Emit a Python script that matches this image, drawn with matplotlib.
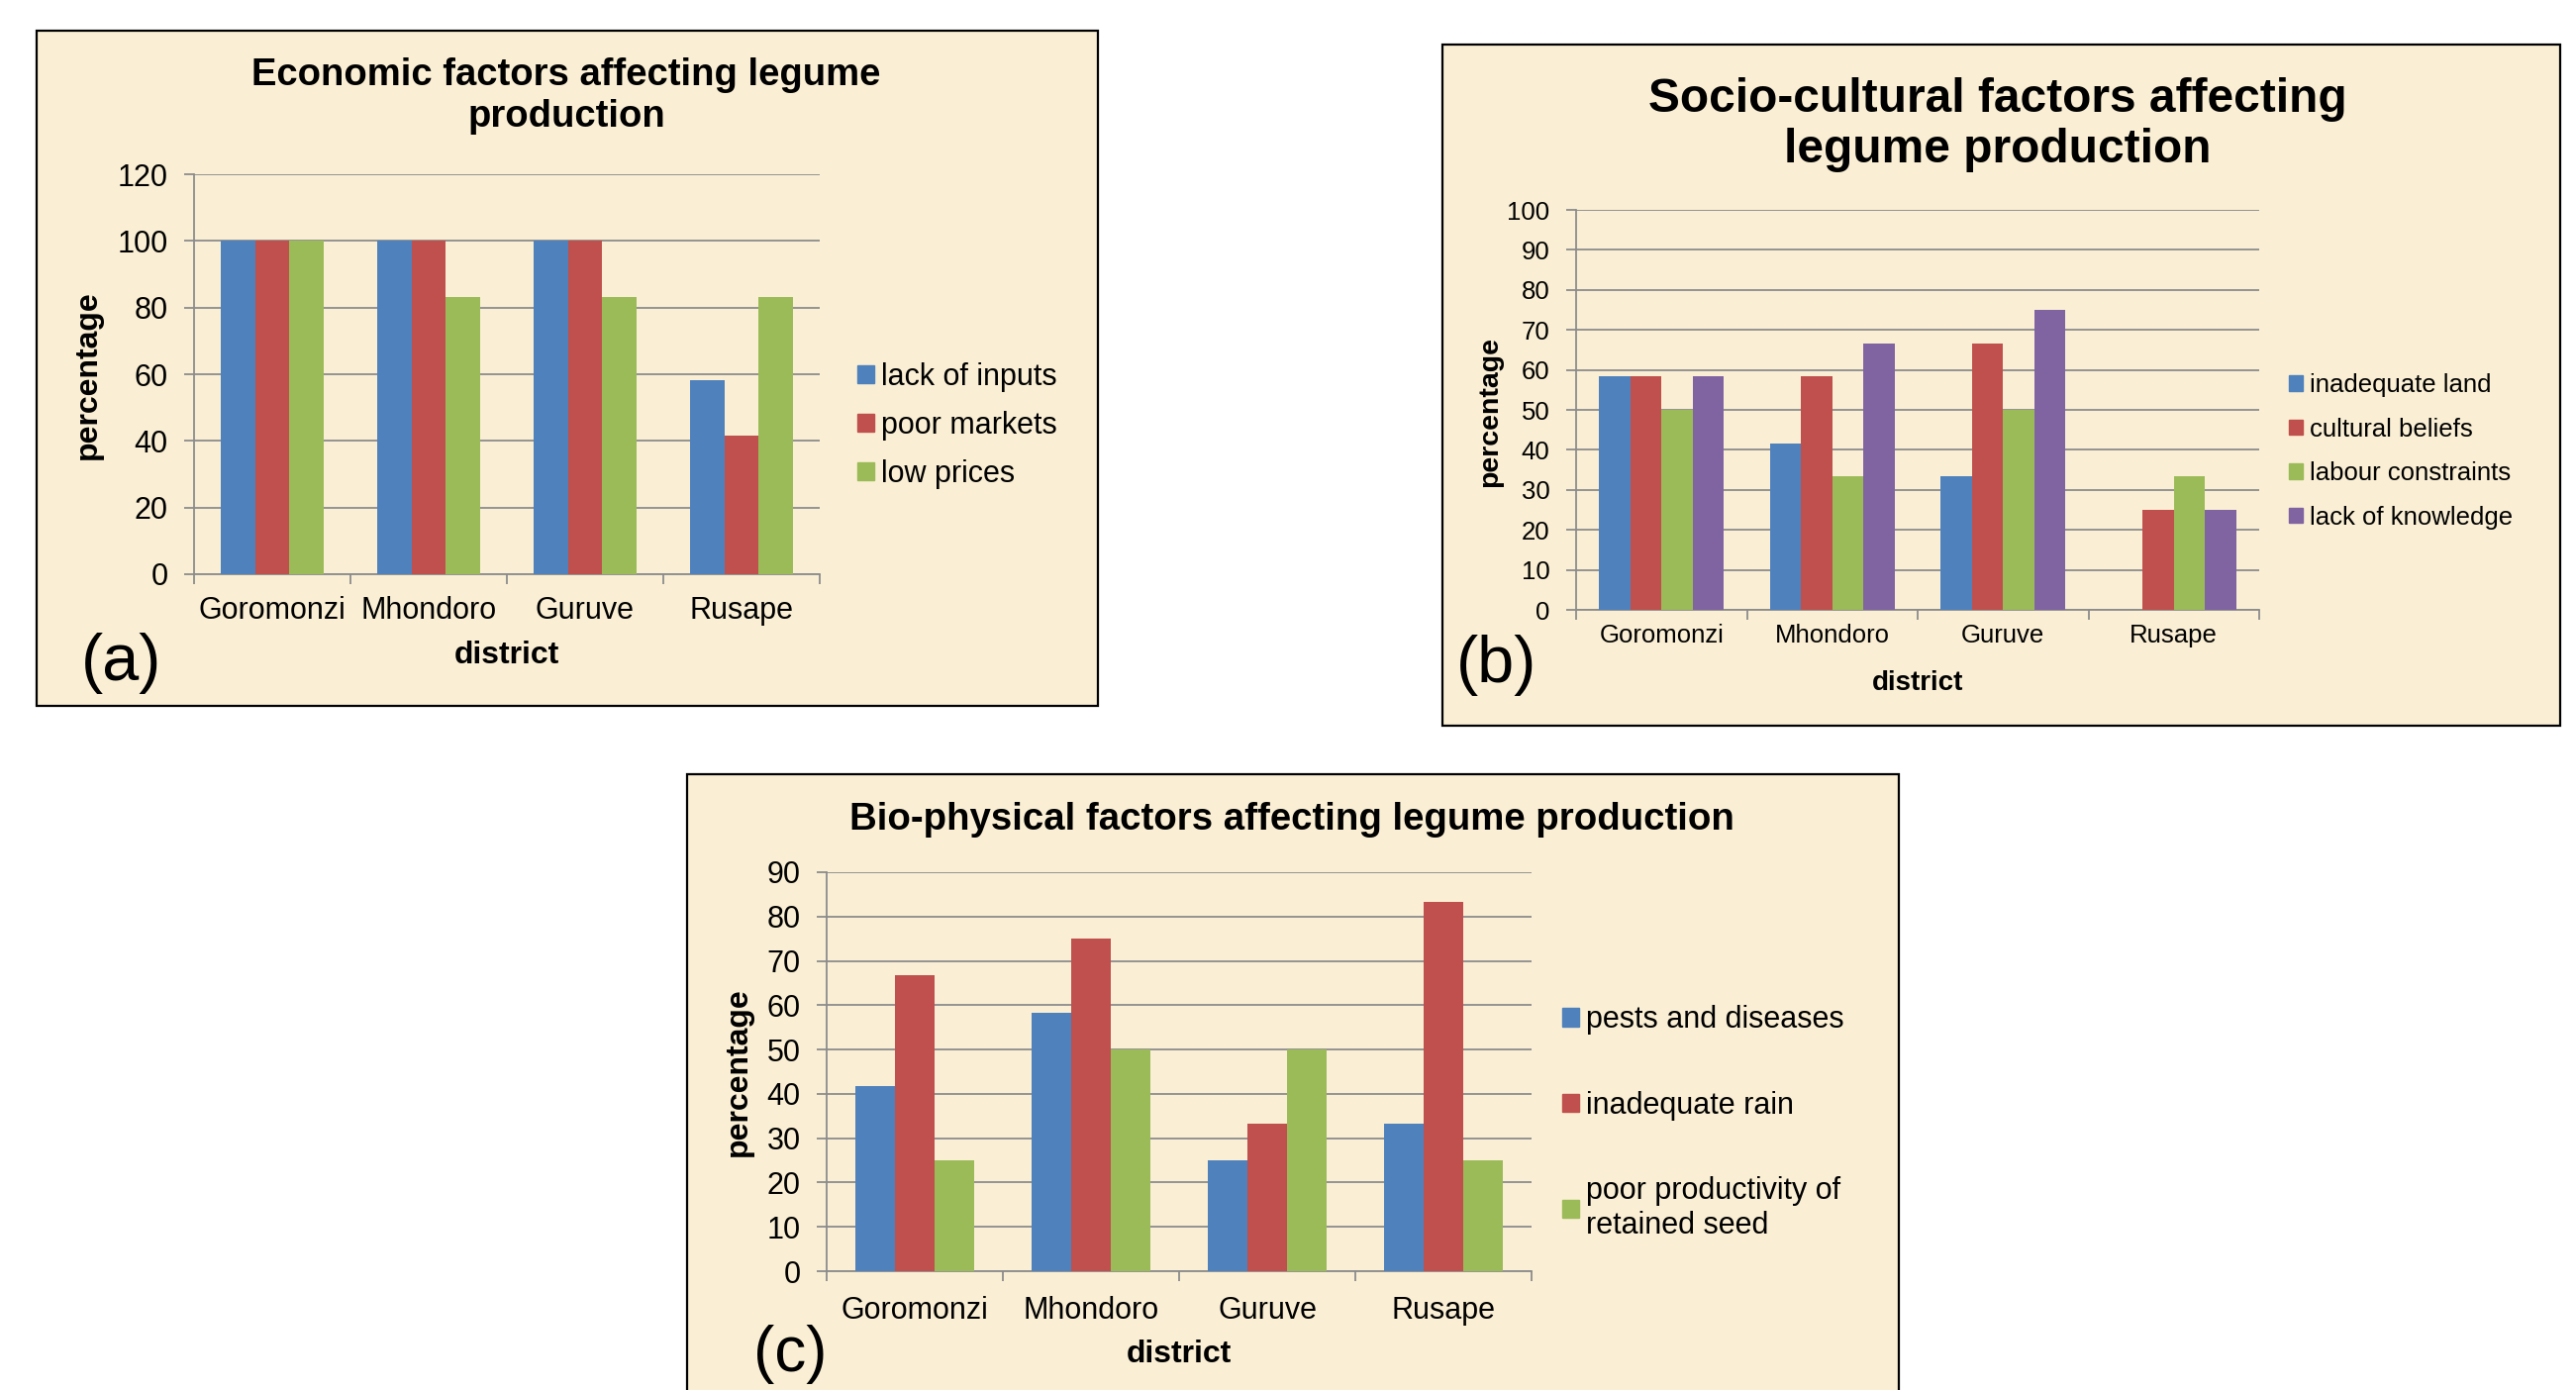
import matplotlib
matplotlib.use('Agg')
import matplotlib.pyplot as plt
from matplotlib.patches import Rectangle, Patch
import numpy as np

plt.rcParams['font.family'] = ['Liberation Sans', 'DejaVu Sans']

# данные
districts = ['Goromonzi', 'Mhondoro', 'Guruve', 'Rusape']

eco_labels = ['lack of inputs', 'poor markets', 'low prices']
eco_lack_inputs = [100, 100, 100, 58.3]
eco_poor_markets = [100, 100, 100, 41.7]
eco_low_prices = [100, 83.3, 83.3, 83.3]

soc_labels = ['inadequate land', 'cultural beliefs', 'labour constraints', 'lack of knowledge']
soc_land = [58.3, 41.7, 33.3, 0]
soc_beliefs = [58.3, 58.3, 66.7, 25]
soc_labour = [50, 33.3, 50, 33.3]
soc_knowledge = [58.3, 66.7, 75, 25]

bio_labels = ['pests and diseases', 'inadequate rain', 'poor productivity of\nretained seed']
bio_pests = [41.7, 58.3, 25, 33.3]
bio_rain = [66.7, 75, 33.3, 83.3]
bio_seed = [25, 50, 50, 25]

colors = ['#4F81BD', '#C0504D', '#9BBB59', '#8064A2']
bg = '#FAEFD4'
grid_c = '#8C8C8C'

W, H = 2602, 1404
fig = plt.figure(figsize=(W / 100, H / 100), dpi=100)
fig.patch.set_facecolor('white')


def box(x0, y0, x1, y1):
    # рамка панели в пикселях
    fig.patches.append(Rectangle((x0 / W, 1 - y1 / H), (x1 - x0) / W, (y1 - y0) / H,
                                 transform=fig.transFigure, facecolor=bg,
                                 edgecolor='black', lw=1.6, zorder=-5))


def txt(x, y, s, **kw):
    fig.text(x / W, 1 - y / H, s, **kw)


def panel(x0, y0, x1, y1, series, width, ymax, ystep, fs, xpad):
    ax = fig.add_axes([x0 / W, 1 - y1 / H, (x1 - x0) / W, (y1 - y0) / H])
    ax.set_facecolor('none')
    n = len(series)
    x = np.arange(len(districts))
    for i, vals in enumerate(series):
        ax.bar(x + (i - (n - 1) / 2) * width, vals, width, color=colors[i], zorder=3)
    ax.set_xlim(-0.5, len(districts) - 0.5)
    ax.set_ylim(0, ymax)
    ax.set_yticks(np.arange(0, ymax + 1, ystep))
    ax.yaxis.grid(True, color=grid_c, lw=1.3, zorder=0)
    ax.set_axisbelow(True)
    ax.set_xticks(x, districts)
    ax.set_xticks(np.arange(-0.5, len(districts)), minor=True)
    ax.tick_params(axis='x', which='major', length=0, pad=xpad, labelsize=fs)
    ax.tick_params(axis='x', which='minor', length=7, color=grid_c, width=1.3)
    ax.tick_params(axis='y', length=7, color=grid_c, width=1.3, pad=12, labelsize=fs)
    for s in ['top', 'right']:
        ax.spines[s].set_visible(False)
    for s in ['left', 'bottom']:
        ax.spines[s].set_color(grid_c)
        ax.spines[s].set_linewidth(1.3)
    return ax


# (a)
box(37, 31, 1109, 713)
ax = panel(196, 176, 828, 580, [eco_lack_inputs, eco_poor_markets, eco_low_prices],
           0.22, 120, 20, 22, 16)
txt(572, 97, 'Economic factors affecting legume\nproduction', ha='center', va='center',
    fontsize=27.5, fontweight='bold', linespacing=1.2)
txt(89, 379, 'percentage', rotation=90, ha='center', va='center', fontsize=23, fontweight='bold')
txt(512, 662, 'district', ha='center', va='center', fontsize=23, fontweight='bold')
txt(123, 670, '(a)', ha='center', va='center', fontsize=48)
ax.legend([Patch(color=c) for c in colors[:3]], eco_labels, loc='center left',
          bbox_to_anchor=(866 / W, 1 - 430 / H), bbox_transform=fig.transFigure,
          frameon=False, fontsize=22, handlelength=0.55, handleheight=0.55,
          handletextpad=0.25, labelspacing=0.62, borderpad=0, borderaxespad=0)

# (b)
box(1457, 45, 2586, 733)
ax = panel(1592, 212, 2282, 616, [soc_land, soc_beliefs, soc_labour, soc_knowledge],
           0.183, 100, 10, 18.5, 10)
txt(2018, 126, 'Socio-cultural factors affecting\nlegume production', ha='center', va='center',
    fontsize=34.5, fontweight='bold', linespacing=1.15)
txt(1505, 416, 'percentage', rotation=90, ha='center', va='center', fontsize=20.5, fontweight='bold')
txt(1937, 690, 'district', ha='center', va='center', fontsize=20, fontweight='bold')
txt(1512, 672, '(b)', ha='center', va='center', fontsize=48)
ax.legend([Patch(color=c) for c in colors], soc_labels, loc='center left',
          bbox_to_anchor=(2312 / W, 1 - 456 / H), bbox_transform=fig.transFigure,
          frameon=False, fontsize=18.5, handlelength=0.55, handleheight=0.55,
          handletextpad=0.25, labelspacing=0.8, borderpad=0, borderaxespad=0)

# (c)
box(694, 782, 1918, 1420)
ax = panel(835, 881, 1547, 1284, [bio_pests, bio_rain, bio_seed],
           0.225, 90, 10, 22, 18)
txt(1305, 828, 'Bio-physical factors affecting legume production', ha='center', va='center',
    fontsize=27.6, fontweight='bold')
txt(746, 1083, 'percentage', rotation=90, ha='center', va='center', fontsize=23, fontweight='bold')
txt(1191, 1368, 'district', ha='center', va='center', fontsize=23, fontweight='bold')
txt(798, 1368, '(c)', ha='center', va='center', fontsize=46)
ax.legend([Patch(color=c) for c in colors[:3]], bio_labels, loc='center left',
          bbox_to_anchor=(1578 / W, 1 - 1134 / H), bbox_transform=fig.transFigure,
          frameon=False, fontsize=22, handlelength=0.55, handleheight=0.55,
          handletextpad=0.25, labelspacing=1.85, borderpad=0, borderaxespad=0)

fig.savefig('out.png', dpi=100)
